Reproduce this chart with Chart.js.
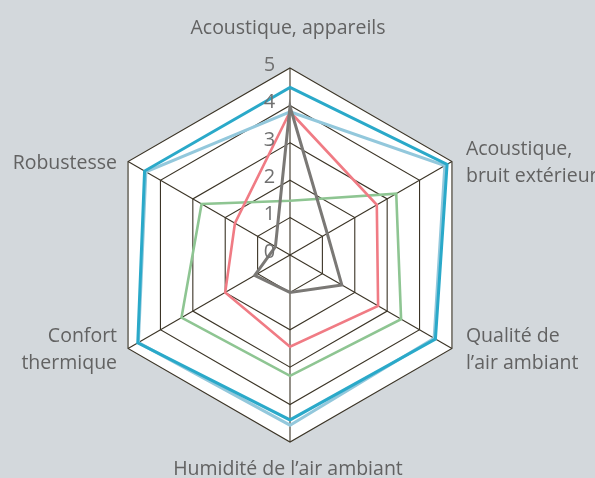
<!DOCTYPE html>
<html><head><meta charset="utf-8">
<script src="https://cdn.jsdelivr.net/npm/chart.js@4"></script>
<style>
html,body{margin:0;padding:0;background:#d3d8dc;}
#wrap{width:595px;height:478px;position:relative;}
</style>
</head><body>
<div id="wrap"><canvas id="c"></canvas></div>
<script>
// Categories (axes) — lines per label
const categories = [
  ["Acoustique, appareils"],
  ["Acoustique,", "bruit extérieur"],
  ["Qualité de", "l’air ambiant"],
  ["Humidité de l’air ambiant"],
  ["Confort", "thermique"],
  ["Robustesse"]
];
const tickValues = [0, 1, 2, 3, 4, 5];
const tickLabels = ["0", "1", "2", "3", "4", "5"];

// Series values
const seriesGray      = [3.97, 1.15, 1.6, 1.0, 1.09, 0.45];
const seriesDarkBlue  = [4.48, 4.85, 4.49, 4.41, 4.7, 4.49];
const seriesLightBlue = [3.83, 4.78, 4.45, 4.55, 4.68, 4.45];
const seriesRed       = [3.83, 2.68, 2.72, 2.45, 2.0, 1.7];
const seriesGreen     = [1.45, 3.28, 3.43, 3.23, 3.35, 2.73];

const FONT = '"Open Sans", "DejaVu Sans", sans-serif';

const labelPlugin = {
  id: 'customLabels',
  afterDraw(chart) {
    const s = chart.scales.r;
    const ctx = chart.ctx;
    ctx.save();
    // tick labels
    ctx.font = '20px ' + FONT;
    ctx.fillStyle = '#707070';
    ctx.textAlign = 'center';
    ctx.textBaseline = 'middle';
    tickValues.forEach((v, i) => {
      const d = s.getDistanceFromCenterForValue(v);
      ctx.fillText(tickLabels[i], s.xCenter - 20.5, s.yCenter - d - 3);
    });
    // point labels
    ctx.font = '19.5px ' + FONT;
    ctx.fillStyle = '#626262';
    ctx.textBaseline = 'alphabetic';
    const lh = 27;
    categories.forEach((lines, i) => {
      const p = s.getPointPosition(i, s.drawingArea);
      const a = s.getIndexAngle(i);
      const sn = Math.sin(a), cs = Math.cos(a);
      if (Math.abs(sn) < 0.1) {
        ctx.textAlign = 'center';
        if (cs > 0) {
          lines.forEach((t, k) => ctx.fillText(t, p.x - 2, p.y - 34 - (lines.length - 1 - k) * lh));
        } else {
          lines.forEach((t, k) => ctx.fillText(t, p.x - 2, p.y + 33 + k * lh));
        }
      } else {
        const right = sn > 0;
        ctx.textAlign = right ? 'left' : 'right';
        const x = right ? p.x + 14 : p.x - 11;
        const y0 = p.y + 7 - (lines.length - 1) * lh / 2;
        lines.forEach((t, k) => ctx.fillText(t, x, y0 + k * lh));
      }
    });
    ctx.restore();
  }
};

const ds = (data, color, w) => ({
  data, borderColor: color, borderWidth: w, backgroundColor: 'transparent',
  fill: false, pointRadius: 0, pointHoverRadius: 0, tension: 0
});

new Chart(document.getElementById('c'), {
  type: 'radar',
  data: {
    labels: categories,
    datasets: [
      ds(seriesGray, '#7a7875', 3),
      ds(seriesDarkBlue, '#2aa9c9', 3),
      ds(seriesLightBlue, '#93c8dc', 3),
      ds(seriesRed, '#f07b84', 2.6),
      ds(seriesGreen, '#8ec592', 2.6)
    ]
  },
  options: {
    responsive: true,
    maintainAspectRatio: false,
    animation: false,
    layout: { padding: { left: 0, right: 15, top: 68, bottom: 36 } },
    plugins: { legend: { display: false }, tooltip: { enabled: false } },
    scales: {
      r: {
        min: 0, max: 5,
        backgroundColor: '#ffffff',
        ticks: { display: false, stepSize: 1 },
        pointLabels: { display: false },
        grid: { color: '#3b3426', lineWidth: 1.1 },
        angleLines: { color: '#3b3426', lineWidth: 1.1 }
      }
    }
  },
  plugins: [labelPlugin]
});
</script>
</body></html>
